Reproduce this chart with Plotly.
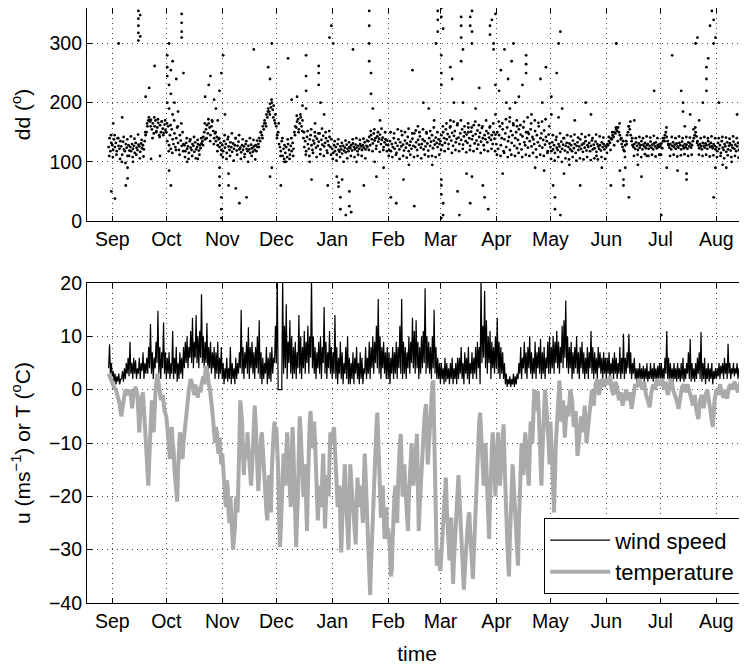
import plotly.graph_objects as go
from datetime import datetime, timedelta

# ---------------- data ----------------
# periods: (year, month, first day, number of days covered)
periods = [(2007, 8, 30, 2), (2007, 9, 1, 30), (2007, 10, 1, 31), (2007, 11, 1, 30),
           (2007, 12, 1, 31), (2008, 1, 1, 31), (2008, 2, 1, 29), (2008, 3, 1, 31),
           (2008, 4, 1, 30), (2008, 5, 1, 31), (2008, 6, 1, 30), (2008, 7, 1, 31),
           (2008, 8, 1, 17)]

tick_months = [(2007, 9), (2007, 10), (2007, 11), (2007, 12), (2008, 1), (2008, 2),
               (2008, 3), (2008, 4), (2008, 5), (2008, 6), (2008, 7), (2008, 8)]
tick_text = ["Sep", "Oct", "Nov", "Dec", "Jan", "Feb", "Mar", "Apr", "May", "Jun", "Jul", "Aug"]

# air temperature (deg C); daily in summer, twice a day in the cold months
temp_aug07 = [3.0, 2.0]
temp_sep = [1, 0.5, 0, -1, -2.5, -5, -2, -0.5, 0, -1, 0, -3.5, -0.5, 0.5, -1, -8, -2, -0.5,
            -6, -12, -18, -9, -2, -8, 0, 3, 0, -2, -1, -4]
temp_oct = [-5, -7, -9, -12, -13, -9, -7, -10, -11, -15,
            -17, -19, -21, -15, -12, -8, -9, -11, -13, -10,
            -8, -6, -4, -2, -1, 0, 1, 2, 1.5, 0.5,
            0, -1, 1, 0, -1, -1.5, 0.5, 0, -0.5, 1,
            2, 2.5, 1, 3, 4.5, 3.5, 3, 1, 0.5, -1,
            -2, -4, -6, -8, -10, -7, -8, -11, -12, -9,
            -11, -14]
temp_nov = [-12, -14, -16, -20, -22, -17, -18, -23, -25, -20,
            -24, -27, -30, -28, -26, -21, -20, -23, -18, -10,
            -2, -4, -6, -12, -16, -11, -10, -13, -8, -11,
            -14, -17, -18, -15, -12, -7, -3, -6, -9, -15,
            -19, -14, -12, -9, -8, -12, -14, -18, -20, -23,
            -24.5, -19, -16, -21, -23, -15, -10, -8, -6, -9]
temp_dec = [-7, -11, -15, -24, -29.5, -26, -22, -16, -12, -15,
            -18, -12, -8, -12, -16, -20, -22, -13, -7, -12,
            -18, -25, -29.5, -24, -20, -11, -5, -8, -12, -17,
            -20, -16, -14, -21, -26.5, -18, -10, -6, -4, -8,
            -11, -8, -6, -10, -14, -20, -24.5, -21, -18, -20,
            -22, -16, -12, -19, -26, -21, -16, -18, -20, -13,
            -8, -10]
temp_jan = [-10, -8, -7, -11, -15, -19, -22, -20, -18, -25,
            -30.5, -25, -20, -17, -14, -19, -24, -28, -30, -22,
            -14, -17, -20, -23, -26, -28, -29, -22, -16.5, -19,
            -22, -20, -18, -22, -25, -18, -12, -16, -20, -26,
            -30, -35, -38.5, -33, -28, -24, -20, -15, -10, -7,
            -4.3, -10, -16, -20, -24, -21, -18, -23, -28, -25,
            -22, -28]
temp_feb = [-26, -28, -30, -35, -34, -28, -22, -20, -18, -22,
            -25, -18, -12, -10, -8.3, -15, -20, -17, -14, -18,
            -22, -24, -26.5, -20, -16, -13, -10, -14, -18, -15,
            -12, -10, -8.3, -18, -26.5, -22, -18, -14, -10, -8,
            -6, -4, -2.7, -9, -14, -11, -8, -4, 0, 1,
            1.7, -8, -20, -28, -33, -31, -30, -33]
temp_mar = [-34, -31, -28, -24, -20, -17, -16.5, -22, -26, -29,
            -32, -28, -24, -31, -36.4, -32, -28, -24, -20, -17,
            -16, -20, -24, -27, -30, -34, -37.5, -34, -30, -28,
            -26, -24, -23, -27, -30, -33, -35.5, -31, -26, -21,
            -16, -12, -8, -6, -4.3, -8, -12, -15, -18, -14,
            -10, -15, -20, -24, -28, -21, -14, -11, -8, -12,
            -16, -20]
temp_apr = [-14, -10, -8, -13, -18, -15, -12, -9, -6.5, -13,
            -20, -24, -28, -32, -35, -28, -22, -18, -14, -17,
            -20, -24, -28, -31, -33, -25, -18, -13, -10, -13,
            -16, -12, -8, -10, -12, -15, -18, -12, -6, -8,
            -10, -5, 0, -2, -4, -2, -0.2, -4, -8, -13,
            -18, -12, -6, -3, 0, -2, -4, -7, -10, -14]
temp_may = [-6, -14, -23, -10, -4, 1.7, -6, -2, -9, -3, -5, 0, -2, -7, -4, -12.4, -9, -5, -8,
            -3, -10, -6, -2, 0, -3, 1, 2, -1, 1.5, 2, 0.5]
temp_jun = [2, 1, 2.6, 0, -1, 1.5, 0.5, -2, -0.5, -3, -1, 0, -2, -0.5, -3.6, -1, 1, 0.5, 2, 1,
            0, 1.5, -1, -2, -3.3, -0.5, 1, 0, 2, 1]
temp_jul = [1, 2, 0, 1.5, -1, 0.5, 2, 0, -1, -2, -3.6, -1, 0.5, 1, -0.5, 1, 0, -1.5, -3, -1,
            -4, -5.5, -2, -1, -3.5, -1, 0, -2, -4.5, -7, -2]
temp_aug08 = [0, -1, 1, -0.5, -1.5, 0, -1.7, 0.5, 1, 0, 1.5, 0.5, -0.5, 1, 2, 1.5, 2]

# wind speed (m/s), two samples per day
wind_aug07 = [4, 8.5, 3, 5]
wind_sep = [2.5, 3.5, 1.5, 3, 1, 2.5, 1.5, 3, 1, 2, 2, 3.5, 1.5, 4,
            2, 5, 3, 6, 2.5, 9, 3, 5, 2, 6, 3, 5.5, 2, 4, 3, 6, 2, 5, 3.5, 7, 2, 5, 3, 6,
            3, 8, 4, 12.3, 3, 7, 2, 6, 4, 9, 5, 14.8, 3, 8, 2, 7, 4, 12.6, 3, 7]
wind_oct = [2, 6, 3, 7, 2, 5, 3, 11, 2, 6, 3, 8, 1.5, 5, 2, 7, 3, 6, 2, 8,
            4, 9, 5, 10, 4, 8, 6, 11, 5, 13.5, 4, 9, 6, 14, 5, 10, 4, 11, 6, 17.9,
            5, 10, 4, 9, 5, 12.5, 3, 8, 4, 9, 3, 7, 4, 8, 2, 7, 3, 9, 2, 6, 3, 8]
wind_nov = [2, 5, 1, 4, 2, 6, 1.5, 4, 2, 8, 1, 5, 2, 4, 1, 6, 2, 5, 3, 7,
            4, 15, 3, 8, 2, 7, 4, 9, 3, 11.7, 2, 8, 4, 9, 3, 7, 2, 8, 4, 10,
            3, 13, 2, 7, 1, 6, 2, 5, 3, 8, 1, 6, 2, 7, 1.5, 8, 3, 6, 5, 12]
wind_dec = [5, 22, 0, 0, 0, 0, 0, 21,
            3, 12, 4, 16, 2, 9, 5, 13, 3, 10, 2, 8,
            3, 9, 2, 7, 4, 14, 3, 10, 2, 8, 4, 11, 3, 9, 5, 12, 3, 10, 6, 21,
            4, 10, 3, 8, 2, 7, 4, 9, 3, 10, 2, 8, 5, 15.5, 3, 9, 2, 7, 4, 11, 3, 8]
wind_jan = [2, 7, 3, 14, 2, 8, 1, 6, 3, 9, 2, 7, 1, 5, 3, 8, 2, 10, 1, 6,
            1, 5, 2, 7, 1, 6, 3, 8, 2, 5, 1, 7, 2, 6, 1, 4, 3, 8, 2, 6,
            3, 9, 2, 8, 4, 10, 3, 9, 5, 12, 4, 17, 3, 10, 2, 8, 4, 9, 3, 7, 2, 8]
wind_feb = [2, 7, 1, 6, 3, 8, 2, 7, 3, 9, 2, 8, 4, 12, 3, 17, 2, 9, 3, 8,
            2, 7, 4, 10, 3, 9, 5, 13.5, 4, 11, 3, 13, 4, 9, 2, 8, 3, 10, 4, 11,
            5, 19, 3, 10, 4, 9, 3, 8, 2, 10, 4, 15, 3, 8, 2, 6, 2, 5]
wind_mar = [1, 5, 2, 4, 1, 6, 1.5, 5, 2, 4, 1, 5, 2, 6, 1, 4, 2, 5, 1, 6,
            2, 6, 3, 8, 2, 5, 1, 7, 3, 6, 2, 8, 1, 5, 3, 7, 2, 6, 3, 8,
            2, 9, 4, 8, 1, 21, 5, 12, 6, 18.5, 4, 13, 3, 10, 5, 11, 2, 9, 4, 8, 3, 10]
wind_apr = [4, 13.5, 3, 9, 2, 8, 3, 7, 2, 5, 1, 3, 0.5, 2, 1, 2.5, 0.5, 2, 1, 3,
            0.5, 2.5, 1, 3, 2, 5, 3, 8, 2, 6, 4, 9, 3, 7, 2, 8, 4, 10, 3, 7,
            2, 6, 3, 9, 2, 7, 4, 8, 3, 9.5, 2, 7, 3, 8, 2, 6, 4, 9, 3, 10]
wind_may = [3, 8, 4, 10, 3, 9, 5, 11, 4, 9, 3, 8, 5, 12, 4, 13, 6, 16.7, 4, 10,
            3, 8, 4, 9, 2, 7, 3, 8, 4, 10, 3, 7, 2, 8, 4, 9, 3, 7, 2, 6,
            3, 8, 2, 7, 4, 11, 3, 8, 2, 7, 3, 6, 2, 8, 4, 7, 3, 6, 2, 7, 3, 6]
wind_jun = [2, 6, 3, 7, 2, 5, 3, 6, 2, 7, 3, 6, 2, 5, 3, 8, 2, 6, 3, 10.5,
            2, 6, 3, 7, 4, 10.5, 3, 7, 2, 5, 3, 6, 2, 4, 1.5, 4, 2, 5, 1.5, 4,
            2, 4.5, 1.5, 4, 2, 5, 1.5, 3.5, 2, 5, 2, 4, 1.5, 5, 2, 4, 1.5, 4.5, 2, 5]
wind_jul = [2, 5, 1.5, 4, 2, 6, 3, 11, 2, 6, 1.5, 5, 2, 4, 1.5, 5, 2, 4, 1.5, 5,
            2, 4, 1.5, 5, 2, 6, 1.5, 4, 2, 5, 3, 7, 2, 9.5, 1.5, 5, 2, 4, 1.5, 5,
            2, 6, 3, 7, 2, 10.8, 1.5, 5, 2, 6, 1, 4, 2, 5, 1.5, 4, 2, 5, 1, 3.5, 2, 4]
wind_aug08 = [2, 4, 2.5, 5, 2, 4.5, 3, 5, 2, 6, 3, 5, 2, 8.6, 3, 5, 2, 4, 3, 5,
              2.5, 4, 3, 5, 2, 4, 3, 5.5, 2.5, 4, 3, 5, 2.5, 4]

# wind direction (deg), main band, two samples per day
dd_aug07 = [125, 140, 118, 132]
dd_sep = [128, 120, 138, 125, 132, 118, 140, 127, 122, 135,
          126, 112, 134, 121, 118, 130, 124, 110, 128, 119,
          125, 118, 130, 122, 127, 115, 132, 124, 120, 129, 126, 117, 131, 123, 128, 121,
          135, 145, 150, 160, 170, 170, 168, 171,
          155, 165, 148, 160, 170, 152, 158, 166, 145, 162, 150, 168, 156, 149, 163, 154]
dd_oct = [150, 135, 160, 128, 145, 122, 155, 138, 130, 148, 125, 140, 158, 132, 120, 145, 136,
          127, 150, 130,
          128, 118, 132, 122, 126, 115, 135, 124, 120, 130, 127, 117, 133, 121, 125, 130, 119,
          128, 123, 131,
          135, 142, 150, 138, 155, 162, 148, 165, 158, 145, 160, 168, 152, 140, 148, 135, 142,
          128, 138, 125, 132, 120]
dd_nov = [128, 118, 135, 124, 130, 115, 138, 126, 120, 133, 125, 117, 131, 122, 128, 140, 119,
          127, 134, 121,
          124, 116, 128, 120, 126, 113, 130, 122, 118, 127, 121, 115, 129, 123, 117, 126, 120,
          128, 118, 125,
          130, 140, 135, 150, 145, 160, 155, 170, 165, 180, 175, 190, 185, 198, 192, 200, 188,
          195, 170, 180]
dd_dec = [160, 145, 150, 130, 125, 118, 135, 110, 122, 128,
          115, 125, 108, 130, 120, 112, 127, 118, 132, 122,
          150, 160, 158, 168, 172, 155, 165, 175, 160, 170,
          140, 125, 135, 118, 142, 130, 122, 138, 145, 128, 120, 136, 131, 143, 124, 139, 127,
          134, 148, 121, 137, 129, 144, 126, 132, 140, 119, 135, 128, 142, 125, 138]
dd_jan = [122, 115, 128, 118, 125, 112, 130, 120, 117, 126, 121, 114, 127, 119, 124, 116, 129,
          122, 118, 125,
          123, 128, 119, 131, 125, 121, 129, 124, 118, 127, 122, 130, 126, 120, 128, 124, 133,
          121, 127, 125,
          135, 142, 128, 145, 138, 131, 148, 136, 140, 127, 143, 134, 139, 146, 130, 137, 141,
          125, 133, 138, 129, 136]
dd_feb = [128, 120, 135, 118, 130, 125, 140, 122, 132, 115, 127, 138, 121, 133, 126, 145, 129,
          119, 136, 124, 131, 142, 118, 128, 134, 122, 139, 127, 148, 125, 133, 120, 137, 129,
          143, 124, 130, 138, 121, 135, 126, 150, 131, 119, 140, 127, 134, 145, 123, 136, 129,
          141, 132, 125, 138, 130]
dd_mar = [135, 145, 128, 150, 140, 132, 155, 138, 147, 130, 142, 160, 136, 149, 127, 144, 152,
          133, 139, 165, 141, 130, 148, 137, 155, 129, 143, 150, 135, 146, 132, 158, 140, 127,
          151, 138, 144, 162, 131, 147, 136, 153, 129, 142, 149, 134, 157, 140, 128, 145, 138,
          152, 133, 148, 141, 160, 137, 145, 130, 150, 139, 146]
dd_apr = [130, 150, 122, 145, 160, 128, 140, 155, 118, 138, 148, 125, 158, 135, 142, 120, 152,
          132, 145, 162, 127, 140, 150, 123, 137, 155, 130, 146, 121, 143, 158, 133, 128, 150,
          140, 124, 147, 135, 155, 126, 142, 138, 130, 152, 121, 145, 133, 160, 127, 140, 148,
          124, 137, 153, 129, 142, 135, 118, 146, 131]
dd_may = [125, 118, 133, 121, 128, 115, 137, 124, 120, 130, 126, 117, 134, 122, 129, 140, 119,
          127, 132, 116, 125, 131, 121, 128, 118, 136, 123, 130, 115, 127, 133, 120, 126, 138,
          122, 129, 117, 131, 124, 135, 119, 128, 125, 132, 118, 127, 136, 121, 129, 123, 134,
          117, 130, 126, 122, 128, 119, 133, 125, 130, 121, 127]
dd_jun = [125, 130, 128, 135, 132, 140, 138, 145, 142, 150, 148, 155, 152, 158, 150, 145, 138,
          130, 125, 120,
          118, 128, 135, 145, 150, 160, 155, 145, 135, 128,
          125, 130, 122, 133, 127, 120, 131, 124, 128, 135, 121, 129, 126, 132, 123, 128, 130,
          122, 127, 134, 124, 129, 121, 131, 126, 133, 123, 128, 125, 130]
dd_jul = [126, 131, 123, 135, 140, 145, 150, 142, 135, 128, 124, 130, 121, 127, 133, 125, 129,
          122, 131, 126, 124, 132, 128, 121, 134, 127, 123, 130, 125, 129, 122, 133, 126, 131,
          124, 128, 135, 140, 145, 150, 143, 135, 128, 123, 130, 126, 121, 132, 127, 124, 131,
          128, 122, 135, 129, 125, 132, 126, 123, 130, 127, 121]
dd_aug08 = [125, 118, 132, 122, 128, 115, 135, 124, 120, 130, 126, 117, 133, 121, 127, 131, 119,
            128, 124, 134, 122, 129, 118, 126, 132, 120, 127, 135, 123, 129, 125, 131, 121, 128]

# wind direction (deg), edge samples of the band, one per day
ddb_aug07 = [110, 145]
ddb_sep = [108, 145, 112, 140, 105, 100, 142, 98, 138, 110, 143, 108, 139, 112, 146, 106, 137,
           109, 150, 165, 175, 160, 140, 175, 150, 172, 142, 168, 145, 170]
ddb_oct = [165, 118, 162, 115, 170, 120, 160, 112, 165, 118, 108, 140, 105, 138, 110, 142, 106,
           137, 112, 140, 128, 165, 140, 172, 135, 170, 130, 150, 118, 140, 112]
ddb_nov = [108, 145, 105, 142, 110, 148, 102, 140, 112, 145, 105, 138, 108, 135, 100, 140, 110,
           137, 104, 136, 125, 150, 140, 165, 160, 185, 180, 205, 175, 165]
ddb_dec = [140, 165, 110, 140, 105, 100, 138, 105, 140, 110, 145, 178, 150, 180, 152,
           150, 112, 152, 110, 155, 115, 150, 108, 148, 113, 156, 110, 150, 115, 152, 112]
ddb_jan = [105, 135, 102, 138, 108, 132, 100, 136, 106, 133, 110, 138, 108, 140, 112, 137, 110,
           139, 106, 136, 120, 152, 118, 155, 122, 150, 117, 156, 120, 150, 118]
ddb_feb = [110, 150, 108, 148, 112, 155, 105, 152, 110, 150, 107, 156, 112, 148, 108, 153, 110,
           150, 106, 155, 112, 148, 109, 152, 110, 158, 108, 150, 112]
ddb_mar = [120, 160, 118, 165, 122, 158, 115, 168, 120, 162, 118, 170, 122, 160, 116, 165, 120,
           158, 118, 168, 122, 162, 115, 160, 120, 170, 118, 158, 122, 165, 118]
ddb_apr = [112, 168, 110, 165, 115, 172, 108, 168, 112, 165, 110, 170, 115, 162, 108, 168, 112,
           175, 110, 165, 115, 170, 108, 166, 112, 168, 110, 172, 115, 160]
ddb_may = [105, 145, 102, 142, 108, 148, 100, 140, 106, 145, 104, 143, 108, 146, 102, 141, 106,
           147, 104, 142, 108, 145, 103, 140, 106, 146, 104, 143, 108, 141, 105]
ddb_jun = [115, 142, 120, 150, 128, 158, 135, 165, 140, 135, 108, 130, 160, 168, 140,
           110, 140, 112, 142, 108, 140, 113, 143, 110, 141, 112, 144, 109, 140, 112]
ddb_jul = [112, 140, 135, 158, 130, 110, 142, 112, 140, 109, 143, 111, 140, 113, 142, 110, 141,
           112, 155, 158, 132, 112, 140, 110, 142, 112, 140, 109, 143, 111, 140]
ddb_aug08 = [108, 140, 110, 142, 106, 141, 111, 139, 108, 143, 110, 140, 107, 142, 110, 141, 108]

# scattered wind-direction samples away from the main band (date "MM-DD", deg)
dd_scatter_dates = [
    "08-31", "09-01", "09-02", "09-04", "09-06", "09-08", "09-09", "09-09", "09-12", "09-15",
    "09-15", "09-15", "09-15", "09-15", "09-16", "09-16", "09-19", "09-21", "09-22", "09-24",
    "09-27", "10-01", "10-01", "10-01", "10-01", "10-02", "10-02", "10-02", "10-03", "10-03",
    "10-04", "10-04", "10-03", "10-02", "10-05", "10-06", "10-07", "10-09", "10-09", "10-09",
    "10-09", "10-10", "10-12", "10-18", "10-22", "10-24", "10-25", "10-27", "10-28", "10-29",
    "10-30", "10-31", "10-30", "10-30", "10-31", "10-31", "10-31", "10-30", "11-01", "11-02",
    "11-04", "11-04", "11-08", "11-10", "11-14", "11-18", "11-26", "11-27", "11-28", "11-27",
    "11-28", "12-03", "12-05", "12-07", "12-09", "12-12", "12-15", "12-17", "12-17", "12-17",
    "12-17", "12-19", "12-20", "12-22", "12-24", "12-24", "12-24", "12-25", "12-27", "12-29",
    "12-30", "12-31", "01-01", "01-03", "01-04", "01-04", "01-05", "01-05", "01-06", "01-08",
    "01-10", "01-10", "01-11", "01-12", "01-14", "01-18", "01-21", "01-21", "01-21", "01-21",
    "01-22", "01-22", "01-23", "01-24", "01-25", "01-27", "01-29", "02-02", "02-05", "02-09",
    "02-12", "02-14", "02-15", "02-17", "02-20", "02-23", "02-25", "02-26", "02-27", "02-28",
    "02-28", "02-28", "03-01", "03-01", "03-01", "03-01", "03-01", "03-01", "03-01", "03-01",
    "03-02", "03-02", "03-01", "03-02", "03-06", "03-06", "03-07", "03-08", "03-10", "03-11",
    "03-12", "03-12", "03-12", "03-13", "03-12", "03-13", "03-15", "03-16", "03-17", "03-17",
    "03-18", "03-18", "03-18", "03-17", "03-18", "03-20", "03-22", "03-24", "03-25", "03-27",
    "03-28", "03-28", "03-29", "03-30", "03-30", "03-31", "03-31", "03-31", "04-02", "04-03",
    "04-04", "04-05", "04-06", "04-07", "04-08", "04-08", "04-09", "04-10", "04-11", "04-12",
    "04-13", "04-15", "04-17", "04-17", "04-17", "04-18", "04-20", "04-22", "04-25", "04-26",
    "04-27", "04-28", "05-01", "05-01", "05-02", "05-03", "05-03", "05-04", "05-05", "05-05",
    "05-06", "05-06", "05-07", "05-08", "05-11", "05-14", "05-17", "05-20", "05-23", "05-26",
    "05-29", "06-03", "06-06", "06-08", "06-10", "06-10", "06-11", "06-13", "06-16", "06-18",
    "06-20", "06-23", "06-27", "07-01", "07-04", "07-07", "07-10", "07-12", "07-13", "07-13",
    "07-14", "07-15", "07-15", "07-17", "07-20", "07-21", "07-22", "07-24", "07-26", "07-26",
    "07-26", "07-27", "07-28", "07-29", "07-30", "07-30", "07-31", "07-31", "07-30", "08-02",
    "08-04", "08-06", "08-09", "08-12", "08-14", "08-16"]
dd_scatter_values = [
    50, 165, 38, 300, 175, 60, 72, 90, 100, 305,
    318, 330, 342, 355, 312, 348, 210, 225, 105, 262,
    110, 200, 245, 260, 280, 300, 230, 190, 255, 215,
    270, 180, 60, 85, 200, 240, 185, 320, 335, 350,
    310, 250, 100, 105, 210, 230, 245, 205, 190, 170,
    220, 250, 90, 60, 40, 20, 5, 75, 280, 180,
    80, 60, 55, 30, 40, 290, 260, 240, 300, 75,
    90, 60, 100, 275, 205, 210, 195, 280, 245, 220,
    190, 100, 70, 165, 250, 262, 230, 200, 180, 60,
    310, 330, 300, 75, 65, 58, 40, 20, 70, 10,
    25, 50, 15, 290, 100, 60, 300, 330, 355, 270,
    250, 215, 190, 100, 75, 170, 90, 40, 30, 70,
    95, 255, 25, 160, 200, 190, 95, 170, 300, 320,
    340, 355, 345, 360, 280, 250, 230, 70, 60, 45,
    30, 10, 5, 325, 170, 260, 240, 200, 50, 10,
    330, 345, 310, 290, 270, 200, 80, 150, 345, 330,
    355, 300, 320, 30, 75, 190, 225, 60, 40, 20,
    330, 315, 340, 300, 290, 350, 230, 180, 220, 255,
    80, 290, 200, 240, 190, 175, 270, 300, 200, 160,
    210, 230, 280, 265, 250, 150, 180, 90, 240, 200,
    85, 260, 210, 180, 60, 40, 20, 250, 175, 300,
    320, 10, 190, 80, 95, 170, 60, 200, 180, 110,
    90, 60, 300, 85, 70, 60, 90, 40, 170, 95,
    75, 110, 220, 10, 90, 280, 85, 220, 200, 185,
    160, 80, 70, 180, 300, 310, 170, 200, 240, 260,
    220, 275, 330, 355, 340, 300, 310, 90, 40, 200,
    95, 90, 100, 180, 40, 105]

temp_lists = [temp_aug07, temp_sep, temp_oct, temp_nov, temp_dec, temp_jan, temp_feb,
              temp_mar, temp_apr, temp_may, temp_jun, temp_jul, temp_aug08]
wind_lists = [wind_aug07, wind_sep, wind_oct, wind_nov, wind_dec, wind_jan, wind_feb,
              wind_mar, wind_apr, wind_may, wind_jun, wind_jul, wind_aug08]
dd_lists = [dd_aug07, dd_sep, dd_oct, dd_nov, dd_dec, dd_jan, dd_feb,
            dd_mar, dd_apr, dd_may, dd_jun, dd_jul, dd_aug08]
ddb_lists = [ddb_aug07, ddb_sep, ddb_oct, ddb_nov, ddb_dec, ddb_jan, ddb_feb,
             ddb_mar, ddb_apr, ddb_may, ddb_jun, ddb_jul, ddb_aug08]


def expand(lists, offset_frac=0.0):
    xs, ys = [], []
    for (yr, mo, d0, nd), vals in zip(periods, lists):
        start = datetime(yr, mo, d0)
        step = nd / len(vals)
        for i, v in enumerate(vals):
            xs.append(start + timedelta(days=(i + offset_frac) * step))
            ys.append(v)
    return xs, ys


t_temp, temp = expand(temp_lists)
t_wind, wind = expand(wind_lists)
t_dd, dd = expand(dd_lists)
t_ddb, ddb = expand(ddb_lists, 0.33)


def scatter_date(s):
    mo, dy = int(s[:2]), int(s[3:])
    yr = 2007 if (mo > 8 or (mo == 8 and dy >= 25)) else 2008
    return datetime(yr, mo, dy, 12)


t_dd_sc = [scatter_date(s) for s in dd_scatter_dates]

tick_vals = [datetime(y, m, 1) for y, m in tick_months]
x_range = [datetime(2007, 8, 18), datetime(2008, 8, 18)]

# ---------------- figure ----------------
FONT = "Liberation Sans, Arial, Helvetica, sans-serif"
fig = go.Figure()

dot = dict(color="black", size=2.8, line=dict(width=0))
fig.add_trace(go.Scatter(x=t_dd + t_ddb + t_dd_sc, y=dd + ddb + dd_scatter_values,
                         mode="markers", xaxis="x", yaxis="y", marker=dot,
                         showlegend=False, hoverinfo="skip"))
fig.add_trace(go.Scatter(x=t_wind, y=wind, mode="lines", xaxis="x2", yaxis="y2",
                         name="wind speed", line=dict(color="black", width=1.2)))
fig.add_trace(go.Scatter(x=t_temp, y=temp, mode="lines", xaxis="x2", yaxis="y2",
                         name="temperature", line=dict(color="#aaaaaa", width=4)))

axis_common = dict(showline=True, linecolor="black", linewidth=1.2, ticks="inside",
                   ticklen=5, tickcolor="black", tickwidth=1, showgrid=True,
                   gridcolor="#444444", gridwidth=1, griddash="1px,4px", zeroline=False,
                   tickfont=dict(family=FONT, size=19.5, color="black"))

# the page body adds an 8px offset, so the figure is sized to fit the window
fig.update_layout(
    width=739, height=657,
    margin=dict(l=79, r=0, t=0, b=62),
    paper_bgcolor="white", plot_bgcolor="white",
    font=dict(family=FONT, color="black"),
    xaxis=dict(domain=[0, 1], anchor="y", range=x_range, tickvals=tick_vals,
               ticktext=tick_text, mirror="ticks", automargin=False, **axis_common),
    yaxis=dict(domain=[0.642, 1.0], anchor="x", range=[0, 360],
               tickvals=[0, 100, 200, 300], automargin="left",
               title=dict(text="dd (<sup>o</sup>)", font=dict(family=FONT, size=21),
                          standoff=14),
               **axis_common),
    xaxis2=dict(domain=[0, 1], anchor="y2", range=x_range, tickvals=tick_vals,
                ticktext=tick_text, mirror="ticks", automargin=False,
                title=dict(text="time", font=dict(family=FONT, size=21), standoff=15),
                **axis_common),
    yaxis2=dict(domain=[0, 0.5378], anchor="x2", range=[-40, 20], dtick=10,
                automargin="left",
                title=dict(text="u (ms<sup>\u22121</sup>) or T (<sup>o</sup>C)",
                           font=dict(family=FONT, size=21), standoff=14),
                **axis_common),
    legend=dict(x=0.6924, xanchor="left", y=0.015, yanchor="bottom",
                bgcolor="white", bordercolor="black", borderwidth=1.2,
                font=dict(family=FONT, size=22, color="black"),
                itemwidth=60, tracegroupgap=0),
)

fig.write_html("out.html")
